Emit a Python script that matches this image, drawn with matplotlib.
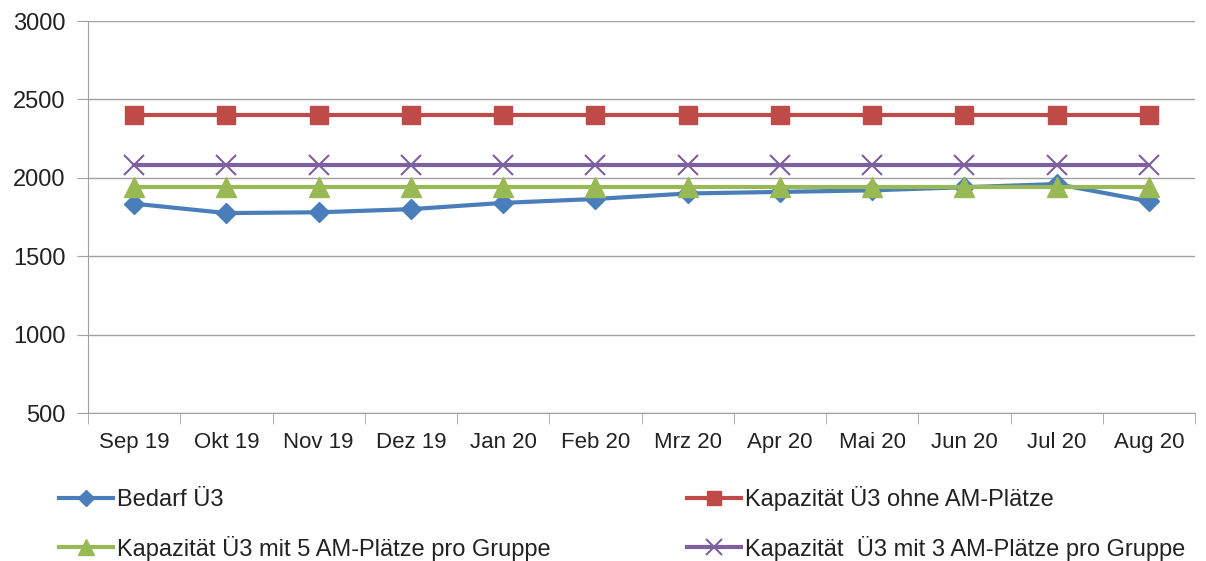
import matplotlib

matplotlib.use("Agg")

import matplotlib.pyplot as plt
import numpy as np

plt.rcParams["font.family"] = ["Liberation Sans", "DejaVu Sans"]

months = ["Sep 19", "Okt 19", "Nov 19", "Dez 19", "Jan 20", "Feb 20",
          "Mrz 20", "Apr 20", "Mai 20", "Jun 20", "Jul 20", "Aug 20"]
bedarf = [1835, 1775, 1780, 1800, 1840, 1865, 1900, 1910, 1920, 1940, 1960, 1850]
kap_ohne = [2400] * 12
kap_5am = [1940] * 12
kap_3am = [2080] * 12

fig = plt.figure(figsize=(12.06, 5.61), dpi=100)
ax = fig.add_axes([88 / 1206, 1 - 413 / 561, 1107 / 1206, 392 / 561])

x = np.arange(len(months))
h1, = ax.plot(x, bedarf, color="#4A7EBB", lw=3, marker="D", ms=10,
              label="Bedarf Ü3")
h2, = ax.plot(x, kap_ohne, color="#BE4B48", lw=3, marker="s", ms=13,
              label="Kapazität Ü3 ohne AM-Plätze")
h3, = ax.plot(x, kap_5am, color="#98B954", lw=3, marker="^", ms=14,
              label="Kapazität Ü3 mit 5 AM-Plätze pro Gruppe")
h4, = ax.plot(x, kap_3am, color="#7D60A0", lw=3, marker="x", ms=14, mew=1.5,
              label="Kapazität  Ü3 mit 3 AM-Plätze pro Gruppe")

ax.set_xlim(-0.5, len(months) - 0.5)
ax.set_ylim(500, 3000)
ax.set_yticks(np.arange(500, 3001, 500))
ax.set_xticks(x)
ax.set_xticklabels(months)
ax.set_xticks(np.arange(-0.5, len(months)), minor=True)
ax.tick_params(axis="x", which="major", length=0, pad=14, labelsize=16,
               labelcolor="#222222")
ax.tick_params(axis="x", which="minor", length=8, color="#A0A0A0")
ax.tick_params(axis="y", length=8, color="#A0A0A0", labelsize=17, pad=8,
               labelcolor="#222222")
ax.grid(axis="y", color="#A0A0A0", lw=1)
ax.set_axisbelow(True)
for s in ["top", "right"]:
    ax.spines[s].set_visible(False)
for s in ["left", "bottom"]:
    ax.spines[s].set_color("#A0A0A0")

# legend: two columns below the axes, as in the spreadsheet original
leg = fig.legend(handles=[h1, h3, h2, h4], ncol=2, loc="upper left",
                 bbox_to_anchor=(47 / 1206, 1 - 474 / 561), frameon=False,
                 fontsize=17, handlelength=2.3, handletextpad=0.15,
                 columnspacing=5.78, labelspacing=1.05, borderpad=0,
                 markerscale=0.8, labelcolor="#222222")

fig.savefig("out.png", dpi=100)
